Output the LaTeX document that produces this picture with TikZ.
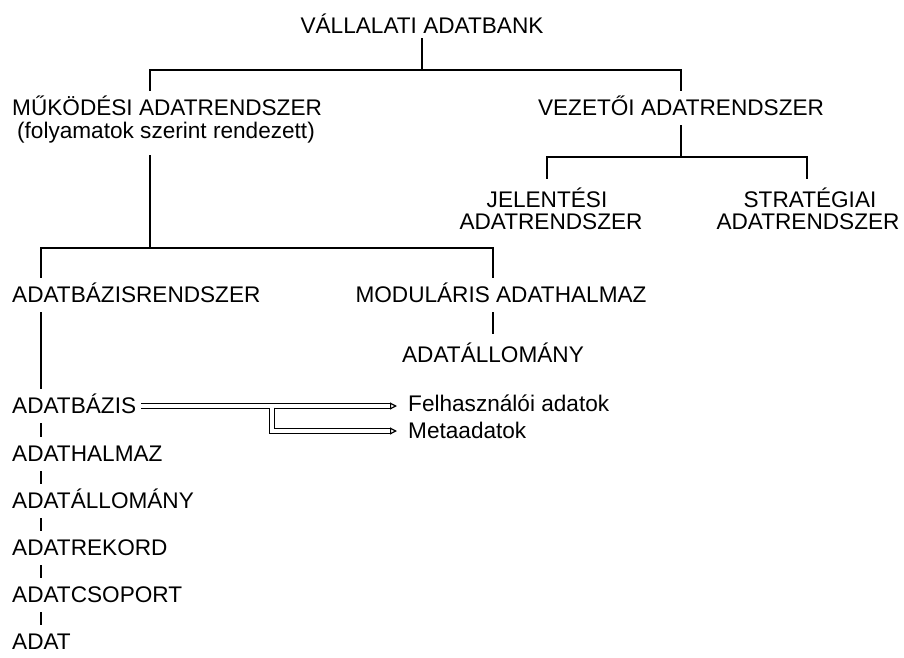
\documentclass[tikz,border=0pt]{standalone}
\usepackage{fontspec}
\setmainfont{Liberation Sans}
\usetikzlibrary{arrows.meta,calc}
\tikzset{
    txt/.style={inner xsep=0pt, inner ysep=8pt, text height=16pt, text depth=2pt, font=\fontsize{22.6}{27}\selectfont},
    conn/.style={line width=1.7pt},
    bar/.style={line width=1.9pt},
    dbl/.style={double, double distance=3.4pt, line width=1.2pt, -{Triangle[open,length=7pt,width=7pt]}}}

\begin{document}
\begin{tikzpicture}[x=1pt,y=-1pt]
\useasboundingbox (0,0) rectangle (904,657);

% upper levels
\node[txt, anchor=base, inner ysep=3pt] (bank) at (422,33) {VÁLLALATI ADATBANK};
\node[txt, anchor=base west] (mukodesi) at (12,115) {MŰKÖDÉSI ADATRENDSZER};
\node[txt, anchor=base, inner ysep=15pt] (folyamat) at (166,138) {(folyamatok szerint rendezett)};
\node[txt, anchor=base] (vezetoi) at (681,115) {VEZETŐI ADATRENDSZER};
\node[txt, anchor=base, inner ysep=12pt] (jel1) at (547,207) {JELENTÉSI};
\node[txt, anchor=base] (jel2) at (551,229) {ADATRENDSZER};
\node[txt, anchor=base, inner ysep=12pt] (str1) at (810,207) {STRATÉGIAI};
\node[txt, anchor=base] (str2) at (808,229) {ADATRENDSZER};

% lower levels
\node[txt, anchor=base west] (adbr) at (12,302) {ADATBÁZISRENDSZER};
\node[txt, anchor=base] (modular) at (501,302) {MODULÁRIS ADATHALMAZ};
\node[txt, anchor=base, inner ysep=12pt] (modall) at (493,362) {ADATÁLLOMÁNY};
\node[txt, anchor=base west] (adatbazis) at (12,413) {ADATBÁZIS};
\node[txt, anchor=base west] (halmaz) at (12,461) {ADATHALMAZ};
\node[txt, anchor=base west] (allomany) at (12,508) {ADATÁLLOMÁNY};
\node[txt, anchor=base west] (rekord) at (12,555) {ADATREKORD};
\node[txt, anchor=base west] (csoport) at (12,602) {ADATCSOPORT};
\node[txt, anchor=base west] (adat) at (12,649) {ADAT};
\node[txt, anchor=base west] (felh) at (408,411) {Felhasználói adatok};
\node[txt, anchor=base west] (meta) at (408,438) {Metaadatok};

% tree
\coordinate (j1) at (150,70);
\coordinate (j2) at (681,70);
\coordinate (k1) at (547,157);
\coordinate (k2) at (807,157);
\coordinate (m1) at (41,248);
\coordinate (m2) at (493,248);
\draw[conn] (bank) -- (bank |- j1);
\draw[conn] (mukodesi.north -| j1) -- (j1) -- (j2) -- (vezetoi.north);
\draw[conn] (vezetoi) -- (vezetoi |- k1);
\draw[conn] (jel1.north -| k1) -- (k1) -- (k2) -- (str1.north -| k2);
\draw[conn] (folyamat.south -| j1) -- (j1 |- m1);
\draw[conn] (adbr.north -| m1) -- (m1) -- (m2) -- (modular.north -| m2);
\draw[conn] (modular.south -| m2) -- (modall.north -| m2);
\draw[conn] (adbr.south -| m1) -- (adatbazis.north -| m1);
\foreach \a/\b in {adatbazis/halmaz, halmaz/allomany, allomany/rekord, rekord/csoport, csoport/adat}
  \draw[bar] (\a.south -| m1) -- (\b.north -| m1);

% double arrows
\coordinate (d1) at ($(adatbazis.east)!0.5!(adatbazis.east -| felh.west)$);
\draw[dbl] ([xshift=5pt]adatbazis.east) -- ([xshift=-11pt]adatbazis.east -| felh.west);
\draw[dbl] ([yshift=-1.7pt]d1) |- ([xshift=-11pt]meta.west);
\end{tikzpicture}
\end{document}
